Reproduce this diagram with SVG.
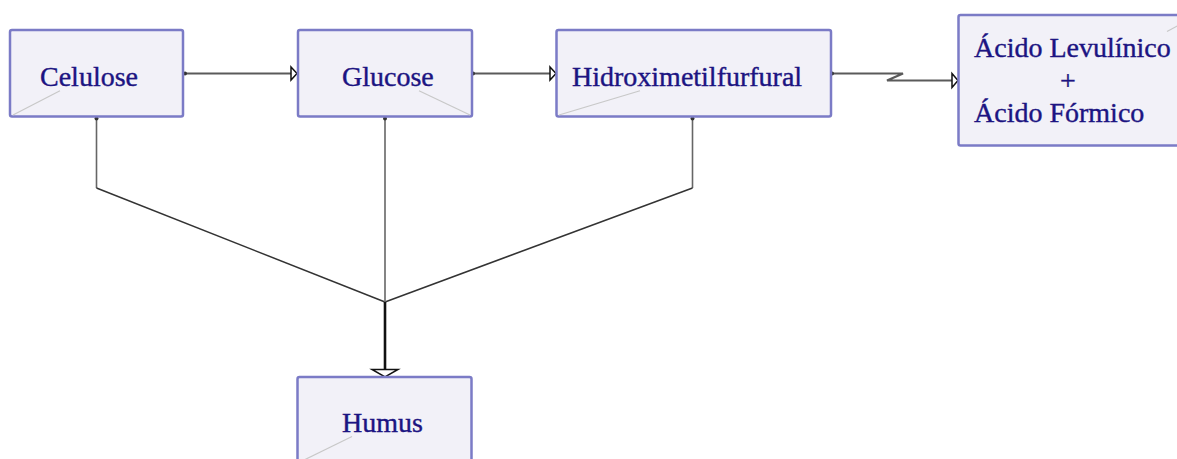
<svg xmlns="http://www.w3.org/2000/svg" width="1177" height="459" viewBox="0 0 1177 459">
  <style>
    .box { fill: #f2f1f8; stroke: #7b7bc6; stroke-width: 2.5; }
    .corner { stroke: #c8c8c8; stroke-width: 1.2; fill: none; }
    .label { font-size: 28px; fill: #1c1482; stroke: #1c1482; stroke-width: 0.4; }
    .flow { stroke: #5a5a5a; stroke-width: 2.2; fill: none; }
    .drop { stroke: #666; stroke-width: 1.6; fill: none; }
    .join { stroke: #333; stroke-width: 1.5; fill: none; }
    .trunk { stroke: #111; stroke-width: 2.6; fill: none; }
    .head { fill: #fff; stroke: #111; stroke-width: 1.5; }
    .dot { fill: #333; }
  </style>
  <rect width="1177" height="459" fill="#fff"/>

  <g id="connectors">
    <!-- horizontal reaction chain -->
    <path class="flow" d="M185 73.5 H291"/>
    <path class="head" d="M291 67 L297 73.5 L291 80 Z"/>
    <path class="flow" d="M473 73.5 H550"/>
    <path class="head" d="M550 67 L556 73.5 L550 80 Z"/>
    <path class="flow" d="M832 73.5 H903 L887 80.5 H952"/>
    <path class="head" d="M952 73.5 L958 80.5 L952 87.5 Z"/>
    <!-- side branches converging into Humus -->
    <path class="drop" d="M96.5 118 V188"/>
    <path class="join" d="M96.5 188 L385 302"/>
    <path class="drop" d="M692.5 118 V188"/>
    <path class="join" d="M692.5 188 L385 302"/>
    <path class="drop" d="M385 118 V302"/>
    <path class="trunk" d="M385 302 V369"/>
    <path class="head" d="M372 369.5 H398 L385 377 Z"/>
    <!-- connector start points -->
    <circle class="dot" cx="185" cy="73.5" r="2"/>
    <circle class="dot" cx="473" cy="73.5" r="2"/>
    <circle class="dot" cx="832" cy="73.5" r="2"/>
    <circle class="dot" cx="96.5" cy="118.5" r="2"/>
    <circle class="dot" cx="385" cy="118.5" r="2"/>
    <circle class="dot" cx="692.5" cy="118.5" r="2"/>
  </g>

  <g font-family="'Liberation Serif', 'DejaVu Serif', 'Times New Roman', serif">
    <g id="celulose">
      <rect class="box" x="10" y="30" width="173" height="86.5" rx="2"/>
      <path class="corner" d="M13 115 L60 90.7"/>
      <text class="label" x="40" y="86">Celulose</text>
    </g>

    <g id="glucose">
      <rect class="box" x="298" y="30" width="174" height="86.5" rx="2"/>
      <path class="corner" d="M470 115 L419 90.7"/>
      <text class="label" x="342" y="85.5">Glucose</text>
    </g>

    <g id="hidroximetilfurfural">
      <rect class="box" x="556.5" y="30" width="274.5" height="86.5" rx="2"/>
      <path class="corner" d="M559 115 L640 90.7"/>
      <text class="label" x="572" y="85.5">Hidroximetilfurfural</text>
    </g>

    <g id="acidos">
      <rect class="box" x="958.5" y="15" width="240" height="130.5" rx="2"/>
      <path class="corner" d="M1167 31.5 L1180 24.5"/>
      <text class="label" x="974" y="57">Ácido Levulínico</text>
      <text class="label" x="1068" y="90" text-anchor="middle">+</text>
      <text class="label" x="974" y="121.5">Ácido Fórmico</text>
    </g>

    <g id="humus">
      <rect class="box" x="297.5" y="377" width="174" height="90" rx="2"/>
      <path class="corner" d="M300 462 L352 436.5"/>
      <text class="label" x="342" y="432">Humus</text>
    </g>
  </g>
</svg>
